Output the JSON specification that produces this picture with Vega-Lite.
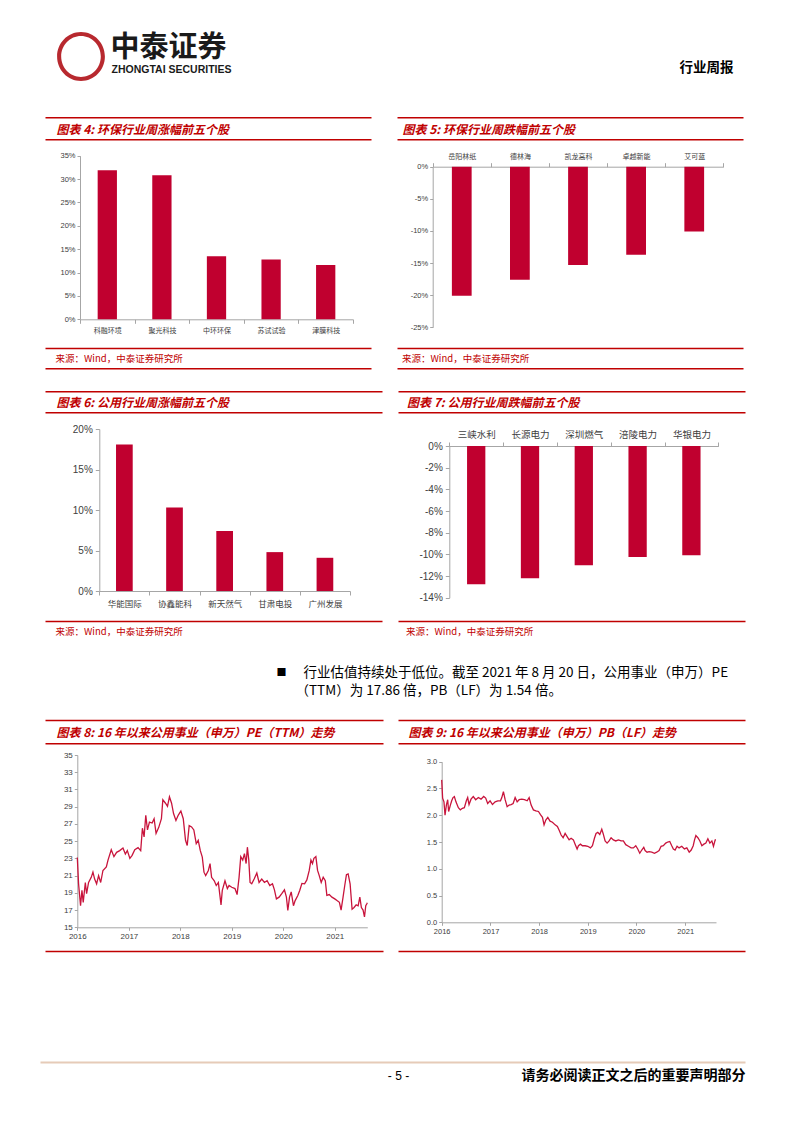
{
  "$schema": "https://vega.github.io/schema/vega-lite/v6.json",
  "width": 793,
  "height": 1122,
  "autosize": {"type": "fit", "contains": "padding"},
  "padding": 0,
  "background": "#ffffff",
  "config": {
    "view": {"stroke": null},
    "axis": {"grid": false, "labelFont": "Noto Sans CJK SC", "titleFont": "Noto Sans CJK SC", "titleLimit": 1000}
  },
  "datasets": {
    "pe": [
      {"d": "2016-01-01", "v": 23.1}, {"d": "2016-01-10", "v": 20.05}, {"d": "2016-01-24", "v": 17.5}, {"d": "2016-02-03", "v": 19.3},
      {"d": "2016-02-12", "v": 17.9}, {"d": "2016-02-27", "v": 20.2}, {"d": "2016-03-07", "v": 18.9}, {"d": "2016-03-21", "v": 20.2},
      {"d": "2016-04-09", "v": 20.8}, {"d": "2016-04-21", "v": 21.4}, {"d": "2016-05-03", "v": 20.6}, {"d": "2016-05-17", "v": 20.05},
      {"d": "2016-05-31", "v": 21.0}, {"d": "2016-06-15", "v": 20.2}, {"d": "2016-07-01", "v": 21.6}, {"d": "2016-07-25", "v": 22.0},
      {"d": "2016-08-06", "v": 22.8}, {"d": "2016-08-29", "v": 24.0}, {"d": "2016-09-17", "v": 23.2}, {"d": "2016-10-06", "v": 23.7},
      {"d": "2016-10-28", "v": 23.9}, {"d": "2016-11-20", "v": 24.2}, {"d": "2016-12-07", "v": 23.5}, {"d": "2016-12-21", "v": 23.9},
      {"d": "2017-01-08", "v": 23.0}, {"d": "2017-01-24", "v": 23.35}, {"d": "2017-02-12", "v": 24.0}, {"d": "2017-03-07", "v": 24.25},
      {"d": "2017-03-26", "v": 23.9}, {"d": "2017-04-07", "v": 26.5}, {"d": "2017-04-19", "v": 25.5}, {"d": "2017-05-01", "v": 28.0},
      {"d": "2017-05-13", "v": 26.3}, {"d": "2017-05-27", "v": 27.2}, {"d": "2017-06-15", "v": 27.1}, {"d": "2017-06-29", "v": 27.6},
      {"d": "2017-07-13", "v": 25.9}, {"d": "2017-08-01", "v": 26.6}, {"d": "2017-08-20", "v": 27.6}, {"d": "2017-08-30", "v": 29.8},
      {"d": "2017-09-18", "v": 29.4}, {"d": "2017-10-02", "v": 29.05}, {"d": "2017-10-16", "v": 30.15}, {"d": "2017-10-31", "v": 29.4},
      {"d": "2017-11-14", "v": 28.2}, {"d": "2017-12-01", "v": 27.4}, {"d": "2017-12-17", "v": 28.0}, {"d": "2018-01-05", "v": 28.5},
      {"d": "2018-01-22", "v": 27.6}, {"d": "2018-02-07", "v": 25.1}, {"d": "2018-02-19", "v": 24.5}, {"d": "2018-03-05", "v": 26.8},
      {"d": "2018-03-22", "v": 26.65}, {"d": "2018-04-07", "v": 26.3}, {"d": "2018-04-24", "v": 24.7}, {"d": "2018-05-08", "v": 25.1},
      {"d": "2018-05-23", "v": 23.9}, {"d": "2018-06-06", "v": 23.15}, {"d": "2018-06-18", "v": 21.4}, {"d": "2018-06-30", "v": 21.0},
      {"d": "2018-07-19", "v": 21.6}, {"d": "2018-07-31", "v": 22.4}, {"d": "2018-08-11", "v": 20.8}, {"d": "2018-08-30", "v": 20.4},
      {"d": "2018-09-13", "v": 19.85}, {"d": "2018-09-28", "v": 20.2}, {"d": "2018-10-17", "v": 17.6}, {"d": "2018-10-26", "v": 19.3},
      {"d": "2018-11-14", "v": 20.4}, {"d": "2018-12-01", "v": 19.5}, {"d": "2018-12-13", "v": 19.85}, {"d": "2019-01-01", "v": 19.65},
      {"d": "2019-01-24", "v": 19.5}, {"d": "2019-02-08", "v": 18.8}, {"d": "2019-02-22", "v": 20.8}, {"d": "2019-03-06", "v": 23.2},
      {"d": "2019-03-20", "v": 22.8}, {"d": "2019-04-01", "v": 23.55}, {"d": "2019-04-13", "v": 22.4}, {"d": "2019-04-22", "v": 24.3},
      {"d": "2019-05-02", "v": 22.8}, {"d": "2019-05-11", "v": 20.2}, {"d": "2019-05-23", "v": 20.05}, {"d": "2019-06-09", "v": 20.6},
      {"d": "2019-06-28", "v": 21.3}, {"d": "2019-07-14", "v": 20.2}, {"d": "2019-08-02", "v": 20.6}, {"d": "2019-08-21", "v": 20.2},
      {"d": "2019-09-09", "v": 20.4}, {"d": "2019-09-28", "v": 19.85}, {"d": "2019-10-17", "v": 20.05}, {"d": "2019-10-31", "v": 19.35},
      {"d": "2019-11-14", "v": 18.3}, {"d": "2019-12-03", "v": 18.5}, {"d": "2019-12-22", "v": 18.9}, {"d": "2020-01-10", "v": 19.35},
      {"d": "2020-01-24", "v": 18.5}, {"d": "2020-02-03", "v": 16.95}, {"d": "2020-02-15", "v": 18.5}, {"d": "2020-02-27", "v": 19.1},
      {"d": "2020-03-14", "v": 17.5}, {"d": "2020-03-26", "v": 18.1}, {"d": "2020-04-14", "v": 18.7}, {"d": "2020-04-28", "v": 19.3},
      {"d": "2020-05-13", "v": 20.1}, {"d": "2020-06-01", "v": 20.05}, {"d": "2020-06-17", "v": 20.5}, {"d": "2020-07-04", "v": 21.6},
      {"d": "2020-07-16", "v": 22.8}, {"d": "2020-07-27", "v": 22.4}, {"d": "2020-08-06", "v": 23.0}, {"d": "2020-08-20", "v": 23.2},
      {"d": "2020-09-01", "v": 21.6}, {"d": "2020-09-13", "v": 21.0}, {"d": "2020-09-27", "v": 20.2}, {"d": "2020-10-11", "v": 20.8},
      {"d": "2020-10-26", "v": 20.4}, {"d": "2020-11-06", "v": 18.7}, {"d": "2020-11-23", "v": 18.8}, {"d": "2020-12-12", "v": 18.5},
      {"d": "2021-01-01", "v": 18.3}, {"d": "2021-01-17", "v": 18.1}, {"d": "2021-02-03", "v": 17.9}, {"d": "2021-02-15", "v": 17.0},
      {"d": "2021-03-01", "v": 18.5}, {"d": "2021-03-13", "v": 19.85}, {"d": "2021-03-25", "v": 21.1}, {"d": "2021-04-06", "v": 21.2},
      {"d": "2021-04-20", "v": 20.05}, {"d": "2021-05-04", "v": 17.1}, {"d": "2021-05-18", "v": 17.3}, {"d": "2021-06-02", "v": 17.6},
      {"d": "2021-06-16", "v": 17.5}, {"d": "2021-06-28", "v": 18.5}, {"d": "2021-07-09", "v": 17.3}, {"d": "2021-07-21", "v": 17.0},
      {"d": "2021-07-31", "v": 16.2}, {"d": "2021-08-09", "v": 17.5}, {"d": "2021-08-16", "v": 17.7}, {"d": "2021-08-20", "v": 17.86}
    ],
    "pb": [
      {"d": "2016-01-01", "v": 2.66}, {"d": "2016-01-08", "v": 2.32}, {"d": "2016-01-18", "v": 2.25}, {"d": "2016-01-26", "v": 2.0},
      {"d": "2016-02-05", "v": 2.19}, {"d": "2016-02-15", "v": 2.29}, {"d": "2016-02-22", "v": 2.07}, {"d": "2016-03-06", "v": 2.19},
      {"d": "2016-03-16", "v": 2.27}, {"d": "2016-03-26", "v": 2.33}, {"d": "2016-04-05", "v": 2.35}, {"d": "2016-04-17", "v": 2.25},
      {"d": "2016-05-05", "v": 2.14}, {"d": "2016-05-20", "v": 2.1}, {"d": "2016-06-04", "v": 2.13}, {"d": "2016-06-19", "v": 2.14},
      {"d": "2016-07-04", "v": 2.27}, {"d": "2016-07-14", "v": 2.33}, {"d": "2016-07-24", "v": 2.2}, {"d": "2016-08-08", "v": 2.3},
      {"d": "2016-08-25", "v": 2.35}, {"d": "2016-09-12", "v": 2.29}, {"d": "2016-10-02", "v": 2.33}, {"d": "2016-10-22", "v": 2.3},
      {"d": "2016-11-11", "v": 2.35}, {"d": "2016-11-26", "v": 2.32}, {"d": "2016-12-11", "v": 2.22}, {"d": "2016-12-29", "v": 2.27},
      {"d": "2017-01-16", "v": 2.2}, {"d": "2017-02-05", "v": 2.25}, {"d": "2017-02-25", "v": 2.27}, {"d": "2017-03-17", "v": 2.27},
      {"d": "2017-03-27", "v": 2.33}, {"d": "2017-04-08", "v": 2.44}, {"d": "2017-04-21", "v": 2.29}, {"d": "2017-05-06", "v": 2.16},
      {"d": "2017-05-21", "v": 2.19}, {"d": "2017-06-05", "v": 2.2}, {"d": "2017-06-20", "v": 2.22}, {"d": "2017-07-05", "v": 2.33},
      {"d": "2017-07-20", "v": 2.25}, {"d": "2017-08-04", "v": 2.29}, {"d": "2017-08-24", "v": 2.3}, {"d": "2017-09-13", "v": 2.29},
      {"d": "2017-10-03", "v": 2.27}, {"d": "2017-10-18", "v": 2.33}, {"d": "2017-11-02", "v": 2.19}, {"d": "2017-11-19", "v": 2.1},
      {"d": "2017-12-07", "v": 2.08}, {"d": "2017-12-27", "v": 2.07}, {"d": "2018-01-11", "v": 2.01}, {"d": "2018-01-26", "v": 1.96},
      {"d": "2018-02-07", "v": 1.82}, {"d": "2018-02-20", "v": 1.91}, {"d": "2018-03-07", "v": 1.96}, {"d": "2018-03-24", "v": 1.89},
      {"d": "2018-04-11", "v": 1.87}, {"d": "2018-05-01", "v": 1.82}, {"d": "2018-05-18", "v": 1.79}, {"d": "2018-06-02", "v": 1.71},
      {"d": "2018-06-15", "v": 1.63}, {"d": "2018-06-30", "v": 1.58}, {"d": "2018-07-15", "v": 1.66}, {"d": "2018-07-30", "v": 1.6},
      {"d": "2018-08-14", "v": 1.54}, {"d": "2018-08-29", "v": 1.57}, {"d": "2018-09-15", "v": 1.54}, {"d": "2018-09-28", "v": 1.46},
      {"d": "2018-10-13", "v": 1.37}, {"d": "2018-10-23", "v": 1.43}, {"d": "2018-11-07", "v": 1.46}, {"d": "2018-11-22", "v": 1.43},
      {"d": "2018-12-12", "v": 1.43}, {"d": "2019-01-01", "v": 1.42}, {"d": "2019-01-21", "v": 1.39}, {"d": "2019-02-05", "v": 1.43},
      {"d": "2019-02-20", "v": 1.57}, {"d": "2019-03-04", "v": 1.66}, {"d": "2019-03-17", "v": 1.68}, {"d": "2019-04-01", "v": 1.64},
      {"d": "2019-04-16", "v": 1.74}, {"d": "2019-04-26", "v": 1.66}, {"d": "2019-05-11", "v": 1.52}, {"d": "2019-05-26", "v": 1.48},
      {"d": "2019-06-10", "v": 1.52}, {"d": "2019-06-25", "v": 1.58}, {"d": "2019-07-12", "v": 1.54}, {"d": "2019-07-30", "v": 1.52},
      {"d": "2019-08-19", "v": 1.54}, {"d": "2019-09-08", "v": 1.52}, {"d": "2019-09-25", "v": 1.52}, {"d": "2019-10-13", "v": 1.45},
      {"d": "2019-11-02", "v": 1.42}, {"d": "2019-11-22", "v": 1.39}, {"d": "2019-12-09", "v": 1.39}, {"d": "2019-12-27", "v": 1.43},
      {"d": "2020-01-11", "v": 1.37}, {"d": "2020-01-26", "v": 1.29}, {"d": "2020-02-10", "v": 1.35}, {"d": "2020-02-25", "v": 1.4},
      {"d": "2020-03-06", "v": 1.34}, {"d": "2020-03-21", "v": 1.31}, {"d": "2020-04-05", "v": 1.32}, {"d": "2020-04-25", "v": 1.31},
      {"d": "2020-05-15", "v": 1.29}, {"d": "2020-06-01", "v": 1.31}, {"d": "2020-06-19", "v": 1.34}, {"d": "2020-07-04", "v": 1.42},
      {"d": "2020-07-21", "v": 1.43}, {"d": "2020-08-08", "v": 1.48}, {"d": "2020-08-23", "v": 1.5}, {"d": "2020-09-07", "v": 1.51},
      {"d": "2020-09-22", "v": 1.43}, {"d": "2020-10-04", "v": 1.37}, {"d": "2020-10-17", "v": 1.35}, {"d": "2020-11-01", "v": 1.42},
      {"d": "2020-11-16", "v": 1.39}, {"d": "2020-12-06", "v": 1.42}, {"d": "2020-12-26", "v": 1.37}, {"d": "2021-01-13", "v": 1.39},
      {"d": "2021-01-31", "v": 1.31}, {"d": "2021-02-15", "v": 1.35}, {"d": "2021-03-02", "v": 1.43}, {"d": "2021-03-12", "v": 1.54},
      {"d": "2021-03-22", "v": 1.62}, {"d": "2021-04-06", "v": 1.58}, {"d": "2021-04-21", "v": 1.52}, {"d": "2021-05-06", "v": 1.43},
      {"d": "2021-05-21", "v": 1.46}, {"d": "2021-06-05", "v": 1.48}, {"d": "2021-06-20", "v": 1.56}, {"d": "2021-07-05", "v": 1.48},
      {"d": "2021-07-20", "v": 1.52}, {"d": "2021-08-01", "v": 1.42}, {"d": "2021-08-14", "v": 1.54}, {"d": "2021-08-20", "v": 1.54}
    ]
  },
  "layer": [
    {
      "data": {"values": [{}]},
      "mark": {"type": "point", "opacity": 0, "size": 0},
      "encoding": {
        "x": {"datum": 0, "type": "quantitative", "scale": {"domain": [0, 1], "range": [45, 371]},
          "axis": {"orient": "top", "offset": -117.25, "domainColor": "#c00000", "domainWidth": 1.5, "ticks": false, "labels": false, "grid": false,
            "title": "图表 4: 环保行业周涨幅前五个股", "titleX": 56, "titleY": 11.75, "titleAlign": "left", "titleBaseline": "middle", "titleAngle": 0,
            "titleFontSize": 12, "titleFontWeight": "bold", "titleFontStyle": "italic", "titleColor": "#c00000"}},
        "y": {"datum": 0.5, "type": "quantitative", "scale": {"domain": [0, 1]},
          "axis": {"orient": "left", "offset": 0, "domain": false, "ticks": false, "labels": false, "grid": false,
            "title": "〇", "titleX": 80.5, "titleY": 60.5, "titleAlign": "center", "titleBaseline": "middle", "titleAngle": 0,
            "titleFontSize": 53, "titleFontWeight": "normal", "titleColor": "#b8292f"}}
      }
    },
    {
      "data": {"values": [{}]},
      "mark": {"type": "point", "opacity": 0, "size": 0},
      "encoding": {
        "x": {"datum": 0, "type": "quantitative", "scale": {"domain": [0, 1], "range": [45, 371]},
          "axis": {"orient": "top", "offset": -139.25, "domainColor": "#c00000", "domainWidth": 1.5, "ticks": false, "labels": false, "grid": false, "title": null}}
      }
    },
    {
      "data": {"values": [{}]},
      "mark": {"type": "point", "opacity": 0, "size": 0},
      "encoding": {
        "x": {"datum": 0, "type": "quantitative", "scale": {"domain": [0, 1], "range": [45, 371]},
          "axis": {"orient": "top", "offset": -348, "domainColor": "#c00000", "domainWidth": 1.5, "ticks": false, "labels": false, "grid": false,
            "title": "来源：Wind，中泰证券研究所", "titleX": 55, "titleY": 10, "titleAlign": "left", "titleBaseline": "middle", "titleAngle": 0,
            "titleFontSize": 9.5, "titleFontWeight": "normal", "titleColor": "#c00000"}},
        "y": {"datum": 0.5, "type": "quantitative", "scale": {"domain": [0, 1]},
          "axis": {"orient": "left", "offset": 0, "domain": false, "ticks": false, "labels": false, "grid": false,
            "title": "中泰证券", "titleX": 110, "titleY": 47, "titleAlign": "left", "titleBaseline": "middle", "titleAngle": 0,
            "titleFontSize": 29, "titleFontWeight": "bold", "titleColor": "#1a1a1a"}}
      }
    },
    {
      "data": {"values": [{}]},
      "mark": {"type": "point", "opacity": 0, "size": 0},
      "encoding": {
        "x": {"datum": 0, "type": "quantitative", "scale": {"domain": [0, 1], "range": [45, 371]},
          "axis": {"orient": "top", "offset": -368.25, "domainColor": "#c00000", "domainWidth": 1.5, "ticks": false, "labels": false, "grid": false, "title": null}},
        "y": {"datum": 0.5, "type": "quantitative", "scale": {"domain": [0, 1]},
          "axis": {"orient": "left", "offset": 0, "domain": false, "ticks": false, "labels": false, "grid": false,
            "title": "ZHONGTAI SECURITIES", "titleX": 111, "titleY": 69.5, "titleAlign": "left", "titleBaseline": "middle", "titleAngle": 0,
            "titleFont": "Liberation Sans", "titleFontSize": 10.5, "titleFontWeight": "bold", "titleColor": "#1a1a1a"}}
      }
    },
    {
      "data": {"values": [{}]},
      "mark": {"type": "point", "opacity": 0, "size": 0},
      "encoding": {
        "x": {"datum": 0, "type": "quantitative", "scale": {"domain": [0, 1], "range": [397, 743]},
          "axis": {"orient": "top", "offset": -117.25, "domainColor": "#c00000", "domainWidth": 1.5, "ticks": false, "labels": false, "grid": false,
            "title": "图表 5: 环保行业周跌幅前五个股", "titleX": 402, "titleY": 11.75, "titleAlign": "left", "titleBaseline": "middle", "titleAngle": 0,
            "titleFontSize": 12, "titleFontWeight": "bold", "titleFontStyle": "italic", "titleColor": "#c00000"}},
        "y": {"datum": 0.5, "type": "quantitative", "scale": {"domain": [0, 1]},
          "axis": {"orient": "left", "offset": 0, "domain": false, "ticks": false, "labels": false, "grid": false,
            "title": "行业周报", "titleX": 733, "titleY": 67, "titleAlign": "right", "titleBaseline": "middle", "titleAngle": 0,
            "titleFontSize": 13.5, "titleFontWeight": "bold", "titleColor": "#000000"}}
      }
    },
    {
      "data": {"values": [{}]},
      "mark": {"type": "point", "opacity": 0, "size": 0},
      "encoding": {
        "x": {"datum": 0, "type": "quantitative", "scale": {"domain": [0, 1], "range": [397, 743]},
          "axis": {"orient": "top", "offset": -139.25, "domainColor": "#c00000", "domainWidth": 1.5, "ticks": false, "labels": false, "grid": false, "title": null}},
        "y": {"datum": 0.5, "type": "quantitative", "scale": {"domain": [0, 1]},
          "axis": {"orient": "left", "offset": 0, "domain": false, "ticks": false, "labels": false, "grid": false,
            "title": "■", "titleX": 281, "titleY": 672, "titleAlign": "center", "titleBaseline": "middle", "titleAngle": 0,
            "titleFontSize": 10, "titleFontWeight": "normal", "titleColor": "#000000"}}
      }
    },
    {
      "data": {"values": [{}]},
      "mark": {"type": "point", "opacity": 0, "size": 0},
      "encoding": {
        "x": {"datum": 0, "type": "quantitative", "scale": {"domain": [0, 1], "range": [397, 743]},
          "axis": {"orient": "top", "offset": -348, "domainColor": "#c00000", "domainWidth": 1.5, "ticks": false, "labels": false, "grid": false,
            "title": "来源：Wind，中泰证券研究所", "titleX": 401.5, "titleY": 10, "titleAlign": "left", "titleBaseline": "middle", "titleAngle": 0,
            "titleFontSize": 9.5, "titleFontWeight": "normal", "titleColor": "#c00000"}},
        "y": {"datum": 0.5, "type": "quantitative", "scale": {"domain": [0, 1]},
          "axis": {"orient": "left", "offset": 0, "domain": false, "ticks": false, "labels": false, "grid": false,
            "title": "行业估值持续处于低位。截至 2021 年 8 月 20 日，公用事业（申万）PE", "titleX": 303, "titleY": 672, "titleAlign": "left", "titleBaseline": "middle", "titleAngle": 0,
            "titleFontSize": 13.5, "titleFontWeight": "normal", "titleColor": "#000000"}}
      }
    },
    {
      "data": {"values": [{}]},
      "mark": {"type": "point", "opacity": 0, "size": 0},
      "encoding": {
        "x": {"datum": 0, "type": "quantitative", "scale": {"domain": [0, 1], "range": [397, 743]},
          "axis": {"orient": "top", "offset": -368.25, "domainColor": "#c00000", "domainWidth": 1.5, "ticks": false, "labels": false, "grid": false, "title": null}},
        "y": {"datum": 0.5, "type": "quantitative", "scale": {"domain": [0, 1]},
          "axis": {"orient": "left", "offset": 0, "domain": false, "ticks": false, "labels": false, "grid": false,
            "title": "（TTM）为 17.86 倍，PB（LF）为 1.54 倍。", "titleX": 295, "titleY": 690, "titleAlign": "left", "titleBaseline": "middle", "titleAngle": 0,
            "titleFontSize": 13.5, "titleFontWeight": "normal", "titleColor": "#000000"}}
      }
    },
    {
      "data": {"values": [{}]},
      "mark": {"type": "point", "opacity": 0, "size": 0},
      "encoding": {
        "x": {"datum": 0, "type": "quantitative", "scale": {"domain": [0, 1], "range": [45, 382]},
          "axis": {"orient": "top", "offset": -391.25, "domainColor": "#c00000", "domainWidth": 1.5, "ticks": false, "labels": false, "grid": false,
            "title": "图表 6: 公用行业周涨幅前五个股", "titleX": 56, "titleY": 11.5, "titleAlign": "left", "titleBaseline": "middle", "titleAngle": 0,
            "titleFontSize": 12, "titleFontWeight": "bold", "titleFontStyle": "italic", "titleColor": "#c00000"}},
        "y": {"datum": 0.5, "type": "quantitative", "scale": {"domain": [0, 1]},
          "axis": {"orient": "left", "offset": 0, "domain": false, "ticks": false, "labels": false, "grid": false,
            "title": "- 5 -", "titleX": 398, "titleY": 1075, "titleAlign": "center", "titleBaseline": "middle", "titleAngle": 0,
            "titleFont": "Liberation Sans", "titleFontSize": 12, "titleFontWeight": "normal", "titleColor": "#000000"}}
      }
    },
    {
      "data": {"values": [{}]},
      "mark": {"type": "point", "opacity": 0, "size": 0},
      "encoding": {
        "x": {"datum": 0, "type": "quantitative", "scale": {"domain": [0, 1], "range": [45, 382]},
          "axis": {"orient": "top", "offset": -412.25, "domainColor": "#c00000", "domainWidth": 1.5, "ticks": false, "labels": false, "grid": false, "title": null}},
        "y": {"datum": 0.5, "type": "quantitative", "scale": {"domain": [0, 1]},
          "axis": {"orient": "left", "offset": 0, "domain": false, "ticks": false, "labels": false, "grid": false,
            "title": "请务必阅读正文之后的重要声明部分", "titleX": 745, "titleY": 1075, "titleAlign": "right", "titleBaseline": "middle", "titleAngle": 0,
            "titleFontSize": 14, "titleFontWeight": "bold", "titleColor": "#000000"}}
      }
    },
    {
      "data": {"values": [{}]},
      "mark": {"type": "point", "opacity": 0, "size": 0},
      "encoding": {
        "x": {"datum": 0, "type": "quantitative", "scale": {"domain": [0, 1], "range": [45, 382]},
          "axis": {"orient": "top", "offset": -621, "domainColor": "#c00000", "domainWidth": 1.5, "ticks": false, "labels": false, "grid": false,
            "title": "来源：Wind，中泰证券研究所", "titleX": 55, "titleY": 10.5, "titleAlign": "left", "titleBaseline": "middle", "titleAngle": 0,
            "titleFontSize": 9.5, "titleFontWeight": "normal", "titleColor": "#c00000"}}
      }
    },
    {
      "data": {"values": [{}]},
      "mark": {"type": "point", "opacity": 0, "size": 0},
      "encoding": {
        "x": {"datum": 0, "type": "quantitative", "scale": {"domain": [0, 1], "range": [398, 745]},
          "axis": {"orient": "top", "offset": -391.25, "domainColor": "#c00000", "domainWidth": 1.5, "ticks": false, "labels": false, "grid": false,
            "title": "图表 7: 公用行业周跌幅前五个股", "titleX": 406.5, "titleY": 11, "titleAlign": "left", "titleBaseline": "middle", "titleAngle": 0,
            "titleFontSize": 12, "titleFontWeight": "bold", "titleFontStyle": "italic", "titleColor": "#c00000"}}
      }
    },
    {
      "data": {"values": [{}]},
      "mark": {"type": "point", "opacity": 0, "size": 0},
      "encoding": {
        "x": {"datum": 0, "type": "quantitative", "scale": {"domain": [0, 1], "range": [398, 745]},
          "axis": {"orient": "top", "offset": -412.25, "domainColor": "#c00000", "domainWidth": 1.5, "ticks": false, "labels": false, "grid": false, "title": null}}
      }
    },
    {
      "data": {"values": [{}]},
      "mark": {"type": "point", "opacity": 0, "size": 0},
      "encoding": {
        "x": {"datum": 0, "type": "quantitative", "scale": {"domain": [0, 1], "range": [398, 745]},
          "axis": {"orient": "top", "offset": -621, "domainColor": "#c00000", "domainWidth": 1.5, "ticks": false, "labels": false, "grid": false,
            "title": "来源：Wind，中泰证券研究所", "titleX": 405.5, "titleY": 10.5, "titleAlign": "left", "titleBaseline": "middle", "titleAngle": 0,
            "titleFontSize": 9.5, "titleFontWeight": "normal", "titleColor": "#c00000"}}
      }
    },
    {
      "data": {"values": [{}]},
      "mark": {"type": "point", "opacity": 0, "size": 0},
      "encoding": {
        "x": {"datum": 0, "type": "quantitative", "scale": {"domain": [0, 1], "range": [45, 383]},
          "axis": {"orient": "top", "offset": -720, "domainColor": "#c00000", "domainWidth": 1.5, "ticks": false, "labels": false, "grid": false,
            "title": "图表 8: 16 年以来公用事业（申万）PE（TTM）走势", "titleX": 56, "titleY": 12.7, "titleAlign": "left", "titleBaseline": "middle", "titleAngle": 0,
            "titleFontSize": 12, "titleFontWeight": "bold", "titleFontStyle": "italic", "titleColor": "#c00000"}}
      }
    },
    {
      "data": {"values": [{}]},
      "mark": {"type": "point", "opacity": 0, "size": 0},
      "encoding": {
        "x": {"datum": 0, "type": "quantitative", "scale": {"domain": [0, 1], "range": [45, 383]},
          "axis": {"orient": "top", "offset": -743.25, "domainColor": "#c00000", "domainWidth": 1.5, "ticks": false, "labels": false, "grid": false, "title": null}}
      }
    },
    {
      "data": {"values": [{}]},
      "mark": {"type": "point", "opacity": 0, "size": 0},
      "encoding": {
        "x": {"datum": 0, "type": "quantitative", "scale": {"domain": [0, 1], "range": [45, 383]},
          "axis": {"orient": "top", "offset": -951, "domainColor": "#c00000", "domainWidth": 1.5, "ticks": false, "labels": false, "grid": false, "title": null}}
      }
    },
    {
      "data": {"values": [{}]},
      "mark": {"type": "point", "opacity": 0, "size": 0},
      "encoding": {
        "x": {"datum": 0, "type": "quantitative", "scale": {"domain": [0, 1], "range": [398, 745]},
          "axis": {"orient": "top", "offset": -720, "domainColor": "#c00000", "domainWidth": 1.5, "ticks": false, "labels": false, "grid": false,
            "title": "图表 9: 16 年以来公用事业（申万）PB（LF）走势", "titleX": 408, "titleY": 12.7, "titleAlign": "left", "titleBaseline": "middle", "titleAngle": 0,
            "titleFontSize": 12, "titleFontWeight": "bold", "titleFontStyle": "italic", "titleColor": "#c00000"}}
      }
    },
    {
      "data": {"values": [{}]},
      "mark": {"type": "point", "opacity": 0, "size": 0},
      "encoding": {
        "x": {"datum": 0, "type": "quantitative", "scale": {"domain": [0, 1], "range": [398, 745]},
          "axis": {"orient": "top", "offset": -743.25, "domainColor": "#c00000", "domainWidth": 1.5, "ticks": false, "labels": false, "grid": false, "title": null}}
      }
    },
    {
      "data": {"values": [{}]},
      "mark": {"type": "point", "opacity": 0, "size": 0},
      "encoding": {
        "x": {"datum": 0, "type": "quantitative", "scale": {"domain": [0, 1], "range": [398, 745]},
          "axis": {"orient": "top", "offset": -951, "domainColor": "#c00000", "domainWidth": 1.5, "ticks": false, "labels": false, "grid": false, "title": null}}
      }
    },
    {
      "data": {"values": [{}]},
      "mark": {"type": "point", "opacity": 0, "size": 0},
      "encoding": {
        "x": {"datum": 0, "type": "quantitative", "scale": {"domain": [0, 1], "range": [40, 745]},
          "axis": {"orient": "top", "offset": -1062, "domainColor": "#e6cbb8", "domainWidth": 2, "ticks": false, "labels": false, "grid": false, "title": null}}
      }
    },
    {
      "data": {"values": [
        {"stock": "科融环境", "chg": 0.319}, {"stock": "聚光科技", "chg": 0.308}, {"stock": "中环环保", "chg": 0.135},
        {"stock": "苏试试验", "chg": 0.128}, {"stock": "津膜科技", "chg": 0.116}
      ]},
      "mark": {"type": "bar", "color": "#c0002f", "width": {"band": 0.353}},
      "encoding": {
        "x": {"field": "stock", "type": "nominal", "sort": null, "scale": {"range": [80, 353], "paddingInner": 0, "paddingOuter": 0},
          "axis": {"orient": "bottom", "offset": -802.7, "title": null, "labelAngle": 0, "labelFontSize": 7, "labelColor": "#404040", "labelPadding": 3,
            "tickBand": "extent", "tickSize": 4, "tickColor": "#a6a6a6", "domainColor": "#a6a6a6"}},
        "y": {"field": "chg", "type": "quantitative", "scale": {"domain": [0, 0.35], "range": [319.3, 155.7], "nice": false},
          "axis": {"orient": "left", "offset": -80, "title": null, "values": [0, 0.05, 0.1, 0.15, 0.2, 0.25, 0.3, 0.35],
            "labelExpr": "(datum.value < 0 ? '-' : '') + format(abs(datum.value) * 100, '.0f') + '%'",
            "labelFont": "Liberation Sans", "labelFontSize": 7.5, "labelColor": "#404040", "labelPadding": 2, "tickSize": 3, "tickColor": "#a6a6a6", "domainColor": "#a6a6a6"}}
      }
    },
    {
      "data": {"values": [
        {"stock": "岳阳林纸", "chg": -0.201}, {"stock": "德林海", "chg": -0.176}, {"stock": "凯龙高科", "chg": -0.153},
        {"stock": "卓越新能", "chg": -0.137}, {"stock": "艾可蓝", "chg": -0.101}
      ]},
      "mark": {"type": "bar", "color": "#c0002f", "width": {"band": 0.34}},
      "encoding": {
        "x": {"field": "stock", "type": "nominal", "sort": null, "scale": {"range": [432.7, 723.3], "paddingInner": 0, "paddingOuter": 0},
          "axis": {"orient": "top", "offset": -166.7, "title": null, "labelAngle": 0, "labelFontSize": 7, "labelColor": "#404040", "labelPadding": 3,
            "tickBand": "extent", "tickSize": 4, "tickColor": "#a6a6a6", "domainColor": "#a6a6a6"}},
        "y": {"field": "chg", "type": "quantitative", "scale": {"domain": [-0.25, 0], "range": [327.3, 166.7], "nice": false},
          "axis": {"orient": "left", "offset": -432.7, "title": null, "values": [-0.25, -0.2, -0.15, -0.1, -0.05, 0],
            "labelExpr": "(datum.value < 0 ? '-' : '') + format(abs(datum.value) * 100, '.0f') + '%'",
            "labelFont": "Liberation Sans", "labelFontSize": 7.5, "labelColor": "#404040", "labelPadding": 2, "tickSize": 3, "tickColor": "#a6a6a6", "domainColor": "#a6a6a6"}}
      }
    },
    {
      "data": {"values": [
        {"stock": "华能国际", "chg": 0.181}, {"stock": "协鑫能科", "chg": 0.103}, {"stock": "新天然气", "chg": 0.074},
        {"stock": "甘肃电投", "chg": 0.048}, {"stock": "广州发展", "chg": 0.041}
      ]},
      "mark": {"type": "bar", "color": "#c0002f", "width": {"band": 0.333}},
      "encoding": {
        "x": {"field": "stock", "type": "nominal", "sort": null, "scale": {"range": [99.3, 350], "paddingInner": 0, "paddingOuter": 0},
          "axis": {"orient": "bottom", "offset": -531, "title": null, "labelAngle": 0, "labelFontSize": 8.5, "labelColor": "#404040", "labelPadding": 4,
            "tickBand": "extent", "tickSize": 4, "tickColor": "#a6a6a6", "domainColor": "#a6a6a6"}},
        "y": {"field": "chg", "type": "quantitative", "scale": {"domain": [0, 0.2], "range": [591, 429], "nice": false},
          "axis": {"orient": "left", "offset": -99.3, "title": null, "values": [0, 0.05, 0.1, 0.15, 0.2],
            "labelExpr": "(datum.value < 0 ? '-' : '') + format(abs(datum.value) * 100, '.0f') + '%'",
            "labelFont": "Liberation Sans", "labelFontSize": 10, "labelColor": "#404040", "labelPadding": 3, "tickSize": 4, "tickColor": "#a6a6a6", "domainColor": "#a6a6a6"}}
      }
    },
    {
      "data": {"values": [
        {"stock": "三峡水利", "chg": -0.1276}, {"stock": "长源电力", "chg": -0.122}, {"stock": "深圳燃气", "chg": -0.110},
        {"stock": "涪陵电力", "chg": -0.1024}, {"stock": "华银电力", "chg": -0.1009}
      ]},
      "mark": {"type": "bar", "color": "#c0002f", "width": {"band": 0.34}},
      "encoding": {
        "x": {"field": "stock", "type": "nominal", "sort": null, "scale": {"range": [449.3, 718.3], "paddingInner": 0, "paddingOuter": 0},
          "axis": {"orient": "top", "offset": -446, "title": null, "labelAngle": 0, "labelFontSize": 9.5, "labelColor": "#404040", "labelPadding": 3,
            "tickBand": "extent", "tickSize": 4, "tickColor": "#a6a6a6", "domainColor": "#a6a6a6"}},
        "y": {"field": "chg", "type": "quantitative", "scale": {"domain": [-0.14, 0], "range": [597.7, 446], "nice": false},
          "axis": {"orient": "left", "offset": -449.3, "title": null, "values": [-0.14, -0.12, -0.1, -0.08, -0.06, -0.04, -0.02, 0],
            "labelExpr": "(datum.value < 0 ? '-' : '') + format(abs(datum.value) * 100, '.0f') + '%'",
            "labelFont": "Liberation Sans", "labelFontSize": 10, "labelColor": "#404040", "labelPadding": 3, "tickSize": 4, "tickColor": "#a6a6a6", "domainColor": "#a6a6a6"}}
      }
    },
    {
      "data": {"name": "pe"},
      "mark": {"type": "line", "color": "#c8143c", "strokeWidth": 1.3},
      "encoding": {
        "x": {"field": "d", "type": "temporal",
          "scale": {"type": "utc", "domain": [{"year": 2016, "month": 1, "date": 1, "utc": true}, {"year": 2021, "month": 8, "date": 20, "utc": true}], "range": [77.3, 367.3]},
          "axis": {"orient": "bottom", "offset": -194.7, "title": null, "format": "%Y", "formatType": "utc",
            "values": [{"year": 2016, "month": 1, "date": 1, "utc": true}, {"year": 2017, "month": 1, "date": 1, "utc": true}, {"year": 2018, "month": 1, "date": 1, "utc": true},
                       {"year": 2019, "month": 1, "date": 1, "utc": true}, {"year": 2020, "month": 1, "date": 1, "utc": true}, {"year": 2021, "month": 1, "date": 1, "utc": true}],
            "labelFont": "Liberation Sans", "labelFontSize": 8, "labelColor": "#404040", "labelPadding": 2, "labelFlush": false, "tickSize": 3, "tickColor": "#a6a6a6", "domainColor": "#a6a6a6"}},
        "y": {"field": "v", "type": "quantitative", "scale": {"domain": [15, 35], "range": [927.3, 755], "nice": false, "zero": false},
          "axis": {"orient": "left", "offset": -77.3, "title": null, "values": [15, 17, 19, 21, 23, 25, 27, 29, 31, 33, 35],
            "labelFont": "Liberation Sans", "labelFontSize": 8, "labelColor": "#404040", "labelPadding": 2, "tickSize": 3, "tickColor": "#a6a6a6", "domainColor": "#a6a6a6"}}
      }
    },
    {
      "data": {"name": "pb"},
      "mark": {"type": "line", "color": "#c8143c", "strokeWidth": 1.3},
      "encoding": {
        "x": {"field": "d", "type": "temporal",
          "scale": {"type": "utc", "domain": [{"year": 2016, "month": 1, "date": 1, "utc": true}, {"year": 2021, "month": 8, "date": 20, "utc": true}], "range": [441.7, 716]},
          "axis": {"orient": "bottom", "offset": -199.7, "title": null, "format": "%Y", "formatType": "utc",
            "values": [{"year": 2016, "month": 1, "date": 1, "utc": true}, {"year": 2017, "month": 1, "date": 1, "utc": true}, {"year": 2018, "month": 1, "date": 1, "utc": true},
                       {"year": 2019, "month": 1, "date": 1, "utc": true}, {"year": 2020, "month": 1, "date": 1, "utc": true}, {"year": 2021, "month": 1, "date": 1, "utc": true}],
            "labelFont": "Liberation Sans", "labelFontSize": 7.5, "labelColor": "#404040", "labelPadding": 2, "labelFlush": false, "tickSize": 3, "tickColor": "#a6a6a6", "domainColor": "#a6a6a6"}},
        "y": {"field": "v", "type": "quantitative", "scale": {"domain": [0, 3], "range": [922.3, 761.7], "nice": false},
          "axis": {"orient": "left", "offset": -441.7, "title": null, "values": [0, 0.5, 1, 1.5, 2, 2.5, 3], "format": ".1f",
            "labelFont": "Liberation Sans", "labelFontSize": 7.5, "labelColor": "#404040", "labelPadding": 2, "tickSize": 3, "tickColor": "#a6a6a6", "domainColor": "#a6a6a6"}}
      }
    }
  ],
  "resolve": {
    "scale": {"x": "independent", "y": "independent"},
    "axis": {"x": "independent", "y": "independent"}
  }
}
